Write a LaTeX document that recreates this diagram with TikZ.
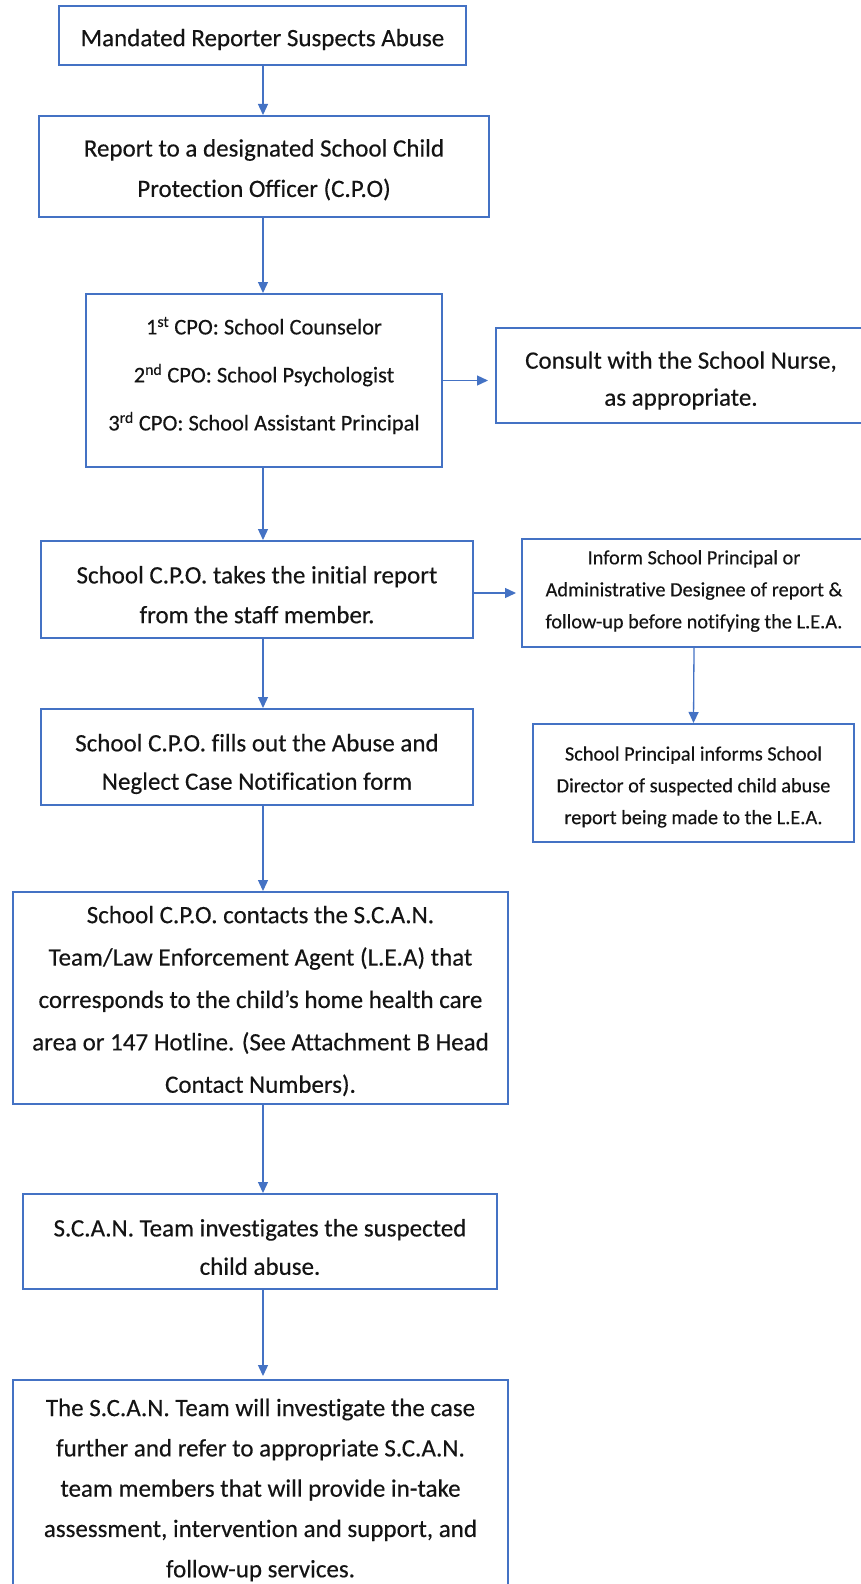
\documentclass[tikz,border=0pt]{standalone}
\usepackage{fontspec}
\setmainfont{Carlito}[Ligatures=NoCommon, FakeBold=0.35]
\usetikzlibrary{arrows.meta}
\definecolor{bl}{HTML}{4472C4}
\definecolor{tx}{HTML}{141414}
\tikzset{
 box/.style={draw=bl, line width=2pt, rectangle, inner sep=0pt},
 txt/.style={inner sep=0pt, align=center, text=tx},
 arr/.style={draw=bl, line width=1.3pt, -{Triangle[width=10pt,length=11pt]}},
}
\newcommand{\fsz}[2]{\fontsize{#1}{#2}\selectfont}
\begin{document}
\begin{tikzpicture}[x=1pt,y=-1pt]
\useasboundingbox (0,0) rectangle (861,1584);
\coordinate (ax) at (263,0);
% boxes
\node[box, minimum width=407pt, minimum height=59pt] (b1) at (262.5,35.5) {};
\node[box, minimum width=450pt, minimum height=101pt] (b2) at (264,166.5) {};
\node[box, minimum width=356pt, minimum height=173pt] (b3) at (264,380.5) {};
\node[box, minimum width=370pt, minimum height=95pt] (cn) at (681,375.5) {};
\node[box, minimum width=432pt, minimum height=97pt] (b4) at (257,589.5) {};
\node[box, minimum width=344pt, minimum height=108pt] (inf) at (694,593) {};
\node[box, minimum width=321pt, minimum height=118pt] (dir) at (693.5,783) {};
\node[box, minimum width=432pt, minimum height=96pt] (b5) at (257,757) {};
\node[box, minimum width=495pt, minimum height=212pt] (b6) at (260.5,998) {};
\node[box, minimum width=474pt, minimum height=95pt] (b7) at (260,1241.5) {};
\node[box, minimum width=495pt, minimum height=232pt] (b8) at (260.5,1496) {};
% texts
\node[txt, font=\fsz{25}{30}] (t1) at (262.5,39.5) {Mandated Reporter Suspects Abuse};
\node[txt, font=\fsz{25}{40.4}] (t2) at (264,169.8) {Report to a designated School Child\\Protection Officer (C.P.O)};
\node[txt, font=\fsz{22.5}{48}] (t3) at (264,375.5) {1\textsuperscript{st} CPO: School Counselor\\2\textsuperscript{nd} CPO: School Psychologist\\3\textsuperscript{rd} CPO: School Assistant Principal};
\node[txt, font=\fsz{25}{37}] (tcn) at (681,380.5) {Consult with the School Nurse,\\as appropriate.};
\node[txt, font=\fsz{25}{39.8}] (t4) at (257,594.7) {School C.P.O. takes the initial report\\from the staff member.};
\node[txt, font=\fsz{20.3}{32}] (tinf) at (694,591) {Inform School Principal or\\Administrative Designee of report \&\\follow-up before notifying the L.E.A.};
\node[txt, font=\fsz{20.3}{31.8}] (tdir) at (693.5,787) {School Principal informs School\\Director of suspected child abuse\\report being made to the L.E.A.};
\node[txt, font=\fsz{25}{38.4}] (t5) at (257,764) {School C.P.O. fills out the Abuse and\\Neglect Case Notification form};
\node[txt, font=\fsz{25}{42.4}] (t6) at (260.5,1001) {School C.P.O. contacts the S.C.A.N.\\Team/Law Enforcement Agent (L.E.A) that\\corresponds to the child’s home health care\\area or 147 Hotline. (See Attachment B Head\\Contact Numbers).};
\node[txt, font=\fsz{25}{38.4}] (t7) at (260,1247) {S.C.A.N. Team investigates the suspected\\child abuse.};
\node[txt, font=\fsz{25}{40.3}] (t8) at (260.5,1490) {The S.C.A.N. Team will investigate the case\\further and refer to appropriate S.C.A.N.\\team members that will provide in-take\\assessment, intervention and support, and\\follow-up services.};
% connectors
\draw[arr] (b1.south -| ax) -- (b2.north -| ax);
\draw[arr] (b2.south -| ax) -- (b3.north -| ax);
\draw[arr] (b3.south -| ax) -- (b4.north -| ax);
\draw[arr] (b4.south -| ax) -- (b5.north -| ax);
\draw[arr] (b5.south -| ax) -- (b6.north -| ax);
\draw[arr] (b6.south -| ax) -- (b7.north -| ax);
\draw[arr, shorten >=3pt] (b7.south -| ax) -- (b8.north -| ax);
\draw[arr, shorten >=7pt] (b3.east) -- (b3.east -| cn.west);
\draw[arr, shorten >=5pt] (inf.west -| b4.east) -- (inf.west);
\draw[arr] (inf.south) -- (dir.north);
\end{tikzpicture}
\end{document}
